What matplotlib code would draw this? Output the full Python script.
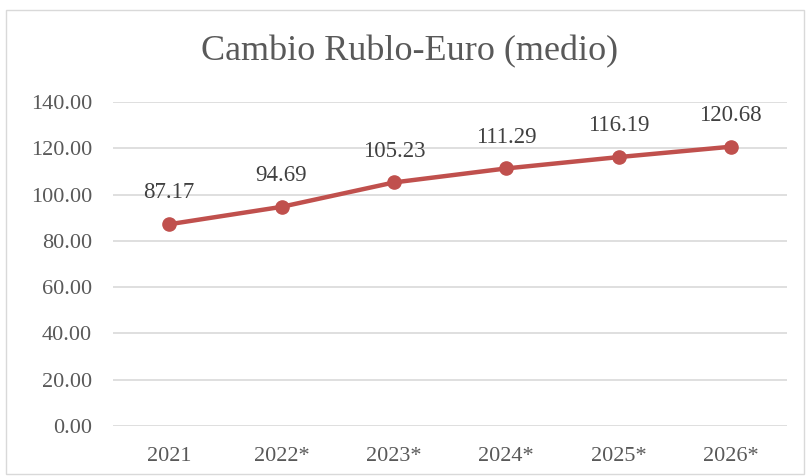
import matplotlib
matplotlib.use("Agg")
import matplotlib.pyplot as plt
from matplotlib.patches import Rectangle

years = ["2021", "2022*", "2023*", "2024*", "2025*", "2026*"]
rate = [87.17, 94.69, 105.23, 111.29, 116.19, 120.68]
yticks = [0, 20, 40, 60, 80, 100, 120, 140]

plt.rcParams['font.family'] = ['Liberation Serif', 'DejaVu Serif']
txt = '#595959'
red = '#C0504D'

fig = plt.figure(figsize=(8.06, 4.76), dpi=100)
# chart border
fig.patches.append(Rectangle((6/806, 2/476), 798/806, 464/476, transform=fig.transFigure,
                             facecolor='none', edgecolor='#D9D9D9', lw=1, zorder=-1))

ax = fig.add_axes([113/806, 1 - 426/476, 674/806, 324/476])
ax.set_facecolor('none')
x = range(len(years))
ax.plot(x, rate, color=red, lw=3.2, marker='o', ms=9.5, zorder=3)
for xi, v in zip(x, rate):
    ax.annotate(f"{v:.2f}", (xi, v), xytext=(0, 15), textcoords='offset points',
                ha='center', va='bottom', fontsize=16.5, color='#404040')

ax.set_xlim(-0.5, len(years) - 0.5)
ax.set_ylim(0, 140)
ax.set_yticks(yticks)
ax.set_yticklabels([f"{t:.2f}" for t in yticks])
ax.set_xticks(list(x))
ax.set_xticklabels(years)
ax.tick_params(axis='both', length=0, labelsize=16, colors=txt)
ax.tick_params(axis='y', pad=15)
ax.tick_params(axis='x', pad=15)
ax.grid(axis='y', color='#D9D9D9', lw=1.2)
for s in ax.spines.values():
    s.set_visible(False)
ax.set_axisbelow(True)

fig.text(410/806, 1 - 52/476, "Cambio Rublo-Euro (medio)", ha='center', va='center',
         fontsize=26, color=txt)

fig.savefig("out.png", dpi=100)
